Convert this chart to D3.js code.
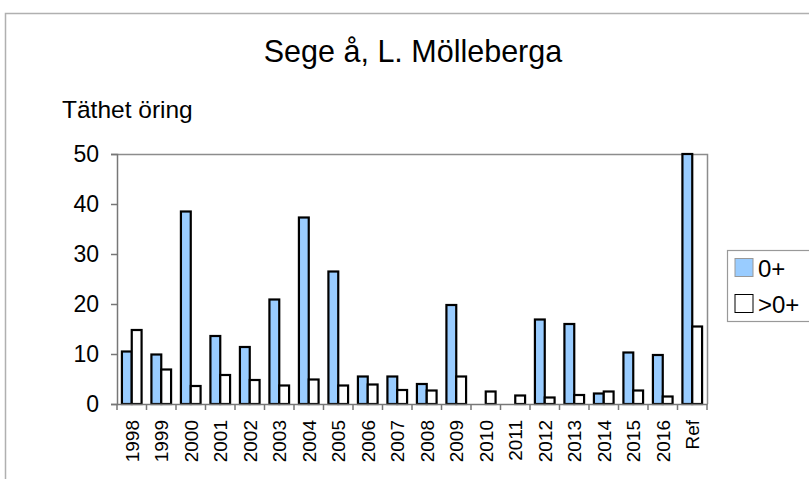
<!DOCTYPE html>
<html>
<head>
<meta charset="utf-8">
<script src="https://cdn.jsdelivr.net/npm/d3@7"></script>
<style>
	body { margin: 0; background: #fff; }
	svg { display: block; font-family: "Liberation Sans", Arial, sans-serif; }
</style>
</head>
<body>
<div id="chart"></div>
<script>
// Chart data
const categories = ['1998', '1999', '2000', '2001', '2002', '2003', '2004', '2005', '2006', '2007',
	'2008', '2009', '2010', '2011', '2012', '2013', '2014', '2015', '2016', 'Ref'];
const youngValues = [10.5, 9.9, 38.5, 13.6, 11.4, 20.9, 37.3, 26.5, 5.5, 5.5,
	4.0, 19.8, 0, 0, 16.9, 16.0, 2.1, 10.3, 9.8, 50];
const olderValues = [14.8, 6.9, 3.6, 5.8, 4.8, 3.7, 4.9, 3.7, 3.9, 2.8,
	2.7, 5.5, 2.5, 1.7, 1.3, 1.8, 2.5, 2.7, 1.5, 15.5];
const seriesNames = ['0+', '>0+'];
const seriesColours = ['#99ccff', '#ffffff'];
const yTicks = [0, 10, 20, 30, 40, 50];

const width = 809;
const height = 479;
const margin = { top: 154, right: 102, bottom: 75, left: 117 };

const svg = d3.select('#chart')
	.append('svg')
	.attr('width', width)
	.attr('height', height);

// Outer chart frame
svg.append('path')
	.attr('d', `M5.5,${height} V13.5 H${width}`)
	.attr('fill', 'none')
	.attr('stroke', '#b0b0b0')
	.attr('stroke-width', 1.5);

// Title and axis caption
svg.append('text')
	.attr('x', 413)
	.attr('y', 62)
	.attr('text-anchor', 'middle')
	.attr('font-size', 30.5)
	.text('Sege å, L. Mölleberga');

svg.append('text')
	.attr('x', 62)
	.attr('y', 118)
	.attr('font-size', 24.5)
	.text('Täthet öring');

const x = d3.scaleBand()
	.domain(categories)
	.range([margin.left, width - margin.right]);

const y = d3.scaleLinear()
	.domain([0, 50])
	.range([height - margin.bottom, margin.top]);

// Plot area frame (top and right)
svg.append('path')
	.attr('d', `M${margin.left},${margin.top + 0.5} H${width - margin.right + 0.5} V${height - margin.bottom}`)
	.attr('fill', 'none')
	.attr('stroke', '#8c8c8c')
	.attr('stroke-width', 1.5);

// Bars: each bar a third of the band, group centred
const barW = x.bandwidth() / 3;
const bars = [];
categories.forEach((c, i) => {
	bars.push({ cat: c, s: 0, v: youngValues[i] });
	bars.push({ cat: c, s: 1, v: olderValues[i] });
});

svg.append('g')
	.selectAll('rect')
	.data(bars.filter((d) => d.v > 0))
	.join('rect')
	.attr('x', (d) => x(d.cat) + barW / 2 + d.s * barW)
	.attr('y', (d) => y(d.v))
	.attr('width', barW)
	.attr('height', (d) => y(0) - y(d.v))
	.attr('fill', (d) => seriesColours[d.s])
	.attr('stroke', '#000')
	.attr('stroke-width', 2.2);

// Y axis
const yAxis = svg.append('g')
	.attr('transform', `translate(${margin.left},0)`)
	.call(d3.axisLeft(y).tickValues(yTicks).tickSize(6).tickPadding(12));
yAxis.selectAll('text')
	.attr('font-size', 23)
	.attr('fill', '#000')
	.attr('font-family', '"Liberation Sans", Arial, sans-serif');
yAxis.selectAll('line, path').attr('stroke', '#777').attr('stroke-width', 1.5);

// X axis with ticks between categories
const xAxis = svg.append('g')
	.attr('transform', `translate(0,${height - margin.bottom})`)
	.call(d3.axisBottom(x).tickSize(0).tickSizeOuter(0));
xAxis.select('.domain').attr('stroke', '#777').attr('stroke-width', 1.5);
xAxis.selectAll('text')
	.attr('font-size', 19)
	.attr('fill', '#000')
	.attr('font-family', '"Liberation Sans", Arial, sans-serif')
	.attr('text-anchor', 'end')
	.attr('dy', '0.36em')
	.attr('transform', 'translate(0,16) rotate(-90)')
	.attr('x', 0)
	.attr('y', 0);

svg.append('g')
	.selectAll('line')
	.data(categories.concat(['end']))
	.join('line')
	.attr('x1', (d) => (d === 'end' ? x.range()[1] : x(d)))
	.attr('x2', (d) => (d === 'end' ? x.range()[1] : x(d)))
	.attr('y1', height - margin.bottom)
	.attr('y2', height - margin.bottom + 6)
	.attr('stroke', '#777')
	.attr('stroke-width', 1.5);

// Legend
const legend = svg.append('g');
legend.append('rect')
	.attr('x', 727.5)
	.attr('y', 250.5)
	.attr('width', 100)
	.attr('height', 71)
	.attr('fill', '#fff')
	.attr('stroke', '#999')
	.attr('stroke-width', 1.2);

const legendItems = legend.selectAll('g.item')
	.data(seriesNames)
	.join('g')
	.attr('class', 'item')
	.attr('transform', (d, i) => `translate(735,${258.5 + i * 36})`);

legendItems.append('rect')
	.attr('width', 18)
	.attr('height', 18)
	.attr('fill', (d, i) => seriesColours[i])
	.attr('stroke', (d, i) => (i === 0 ? '#999' : '#000'))
	.attr('stroke-width', 1);

legendItems.append('text')
	.attr('x', 23)
	.attr('y', 18)
	.attr('font-size', 24)
	.text((d) => d);
</script>
</body>
</html>
